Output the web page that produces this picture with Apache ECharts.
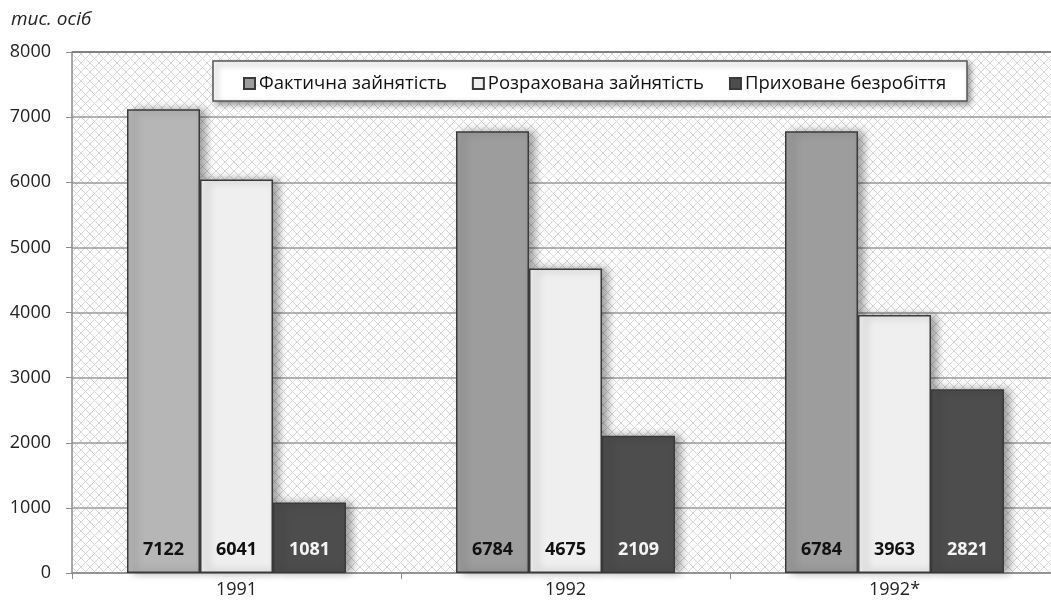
<!DOCTYPE html>
<html>
<head>
<meta charset="utf-8">
<script src="https://cdn.jsdelivr.net/npm/echarts@6/dist/echarts.min.js"></script>
<style>html,body{margin:0;padding:0;background:#fff;}#c{width:1051px;height:603px;}</style>
</head>
<body>
<div id="c"></div>
<script>
const categories = ['1991', '1992', '1992*'];
const seriesNames = ['Фактична зайнятість', 'Розрахована зайнятість', 'Приховане безробіття'];
const actualEmployment = [7122, 6784, 6784];
const estimatedEmployment = [6041, 4675, 3963];
const hiddenUnemployment = [1081, 2109, 2821];
const yTicks = [0, 1000, 2000, 3000, 4000, 5000, 6000, 7000, 8000];
const unitLabel = 'тис. осіб';

const FONT = '"Open Sans", "Liberation Sans", sans-serif';

// crosshatch pattern
const tile = document.createElement('canvas');
const S = 9;
tile.width = S; tile.height = S;
const tc = tile.getContext('2d');
tc.fillStyle = '#ffffff';
tc.fillRect(0, 0, S, S);
tc.strokeStyle = '#d6d6d6';
tc.lineWidth = 1;
tc.beginPath();
tc.moveTo(0, 0); tc.lineTo(S, S);
tc.moveTo(S, 0); tc.lineTo(0, S);
tc.stroke();

const chart = echarts.init(document.getElementById('c'), null, {renderer: 'canvas'});

const shadow = {shadowColor: 'rgba(0,0,0,0.4)', shadowBlur: 9, shadowOffsetX: 6, shadowOffsetY: 0};

function barSeries(name, values, color, labelColor, firstColor) {
  return {
    name: name,
    type: 'bar',
    barWidth: 73,
    barGap: '0%',
    data: values.map((v, i) => (i === 0 && firstColor) ? {value: v, itemStyle: {color: firstColor}} : v),
    itemStyle: Object.assign({color: color, borderColor: '#3a3a3a', borderWidth: 1.5}, shadow),
    label: {
      show: true,
      position: 'insideBottom',
      distance: 14,
      color: labelColor,
      fontFamily: FONT,
      fontWeight: 'bold',
      fontSize: 18
    }
  };
}

const splitColors = yTicks.map((t, i) => i === yTicks.length - 1 ? '#5a5a5a' : '#9a9a9a');

chart.setOption({
  animation: false,
  textStyle: {fontFamily: FONT},
  grid: {
    left: 72, top: 52, width: 987, height: 521,
    outerBoundsMode: 'none',
    containLabel: false,
    show: true,
    borderWidth: 0,
    backgroundColor: {image: tile, repeat: 'repeat'}
  },
  graphic: [
    {
      type: 'text', left: 11, top: 10,
      style: {text: unitLabel, font: 'italic 19px ' + FONT, fill: '#222'}
    },
    {
      type: 'rect', z: 3,
      shape: {x: 213, y: 61, width: 754, height: 40},
      style: {fill: '#fff', stroke: '#555', lineWidth: 1.5, shadowColor: 'rgba(0,0,0,0.4)', shadowBlur: 6, shadowOffsetX: 3, shadowOffsetY: 3}
    }
  ],
  legend: {
    z: 5,
    left: 243, top: 74,
    padding: 0,
    itemWidth: 11, itemHeight: 11,
    itemGap: 25,
    icon: 'rect',
    textStyle: {fontFamily: FONT, fontSize: 18.5, color: '#111', padding: [0, 0, 0, -1]},
    itemStyle: {shadowBlur: 0, shadowOffsetX: 0, shadowColor: 'transparent'},
    data: seriesNames
  },
  xAxis: {
    type: 'category',
    data: categories,
    axisLine: {lineStyle: {color: '#8c8c8c', width: 1.5}},
    axisTick: {show: true, length: 6, lineStyle: {color: '#8c8c8c'}},
    axisLabel: {color: '#222', fontSize: 18, margin: 8, fontFamily: FONT}
  },
  yAxis: {
    type: 'value',
    min: 0, max: 8000, interval: 1000,
    axisLine: {show: true, lineStyle: {color: '#8c8c8c', width: 1.5}},
    axisTick: {show: true, length: 6, lineStyle: {color: '#8c8c8c'}},
    axisLabel: {color: '#222', fontSize: 18, margin: 21, fontFamily: FONT, formatter: v => String(v)},
    splitLine: {show: true, lineStyle: {color: splitColors, width: 1.5}}
  },
  series: [
    barSeries(seriesNames[0], actualEmployment, '#9d9d9d', '#111', '#b6b6b6'),
    barSeries(seriesNames[1], estimatedEmployment, '#efefef', '#111'),
    barSeries(seriesNames[2], hiddenUnemployment, '#4d4d4d', '#f4f4f4')
  ]
});
</script>
</body>
</html>
